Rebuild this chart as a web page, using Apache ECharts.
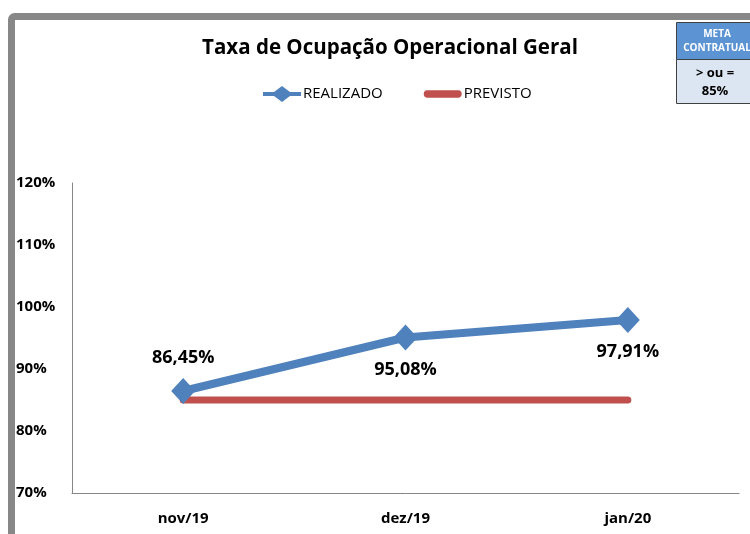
<!DOCTYPE html>
<html>
<head>
    <meta charset="UTF-8">
    <title>Taxa de Ocupação</title>
    <style>
        html, body {
            margin: 0;
            padding: 0;
            overflow: hidden;
            background: #ffffff;
        }
        #chart {
            width: 750px;
            height: 534px;
        }
    </style>
    <script src="https://cdn.jsdelivr.net/npm/echarts@6/dist/echarts.min.js"></script>
</head>
<body>
<div id="chart"></div>
<script>
    // chart data
    const meses = ['nov/19', 'dez/19', 'jan/20'];
    const realizado = [86.45, 95.08, 97.91];
    const previsto = [85, 85, 85];
    const labelPos = ['top', 'bottom', 'bottom'];

    const fontFam = '"Open Sans", "Noto Sans", sans-serif';

    // legend icons: thick line with diamond, thick rounded line
    const iconRealizado = 'path://M0,6 L11,6 L19,0 L27,6 L38,6 L38,10 L27,10 L19,16 L11,10 L0,10 Z';
    const iconPrevisto = 'path://M4,4.5 L34,4.5 C38,4.5 38,11.5 34,11.5 L4,11.5 C0,11.5 0,4.5 4,4.5 Z';

    let myChart = echarts.init(document.getElementById('chart'), null, {renderer: 'canvas'});

    let option = {
        animation: false,
        backgroundColor: '#ffffff',
        textStyle: {fontFamily: fontFam},
        title: {
            text: 'Taxa de Ocupação Operacional Geral',
            left: 385,
            textAlign: 'center',
            top: 33,
            textStyle: {fontSize: 20.5, fontWeight: 'bold', color: '#000', fontFamily: fontFam}
        },
        legend: {
            top: 81,
            left: 258,
            itemWidth: 38,
            itemHeight: 16,
            itemGap: 41,
            textStyle: {fontSize: 15, color: '#000', fontFamily: fontFam, padding: [0, 0, 0, -3]},
            data: [
                {name: 'REALIZADO', icon: iconRealizado, itemStyle: {color: '#4F81BD'}},
                {name: 'PREVISTO', icon: iconPrevisto, itemStyle: {color: '#C0504D'}}
            ]
        },
        grid: {left: 72, right: 11, top: 183, bottom: 41, containLabel: false},
        xAxis: {
            type: 'category',
            data: meses,
            boundaryGap: true,
            axisLine: {lineStyle: {color: '#868686', width: 1}},
            axisTick: {show: false},
            axisLabel: {margin: 18, fontSize: 15, fontWeight: 'bold', color: '#000', fontFamily: fontFam}
        },
        yAxis: {
            type: 'value',
            min: 70,
            max: 120,
            interval: 10,
            axisLine: {show: true, lineStyle: {color: '#868686', width: 1}},
            axisTick: {show: false},
            splitLine: {show: false},
            axisLabel: {
                align: 'left',
                margin: 56,
                fontSize: 15,
                fontWeight: 'bold',
                color: '#000',
                fontFamily: fontFam,
                formatter: v => v + '%'
            }
        },
        series: [
            {
                name: 'REALIZADO',
                type: 'line',
                data: realizado.map((v, i) => ({
                    value: v,
                    label: {position: labelPos[i], distance: i === 0 ? 11 : 10}
                })),
                symbol: 'diamond',
                symbolSize: [24, 26],
                z: 3,
                itemStyle: {color: '#4F81BD'},
                lineStyle: {color: '#4F81BD', width: 8},
                label: {
                    show: true,
                    fontSize: 18,
                    fontWeight: 'bold',
                    color: '#000',
                    fontFamily: fontFam,
                    formatter: p => p.value.toFixed(2).replace('.', ',') + '%'
                }
            },
            {
                name: 'PREVISTO',
                type: 'line',
                data: previsto,
                symbol: 'none',
                z: 2,
                itemStyle: {color: '#C0504D'},
                lineStyle: {color: '#C0504D', width: 7, cap: 'round'}
            }
        ],
        graphic: [
            {
                type: 'rect',
                shape: {x: 11.5, y: 16.5, width: 800, height: 600, r: 3},
                style: {fill: 'none', stroke: '#878787', lineWidth: 7},
                z: 10
            },
            {
                type: 'rect',
                shape: {x: 676.5, y: 22.5, width: 80, height: 37},
                style: {fill: '#5B93D3', stroke: '#404040', lineWidth: 1},
                z: 10
            },
            {
                type: 'rect',
                shape: {x: 676.5, y: 59.5, width: 80, height: 44},
                style: {fill: '#DCE6F2', stroke: '#404040', lineWidth: 1},
                z: 10
            },
            {
                type: 'text',
                x: 717,
                y: 41,
                style: {
                    text: 'META\nCONTRATUAL',
                    align: 'center',
                    verticalAlign: 'middle',
                    fill: '#ffffff',
                    font: 'bold 10px ' + fontFam,
                    lineHeight: 14
                },
                z: 11
            },
            {
                type: 'text',
                x: 715,
                y: 82,
                style: {
                    text: '> ou =\n85%',
                    align: 'center',
                    verticalAlign: 'middle',
                    fill: '#000',
                    font: 'bold 13px ' + fontFam,
                    lineHeight: 18
                },
                z: 11
            }
        ]
    };
    myChart.setOption(option);
</script>
</body>
</html>
